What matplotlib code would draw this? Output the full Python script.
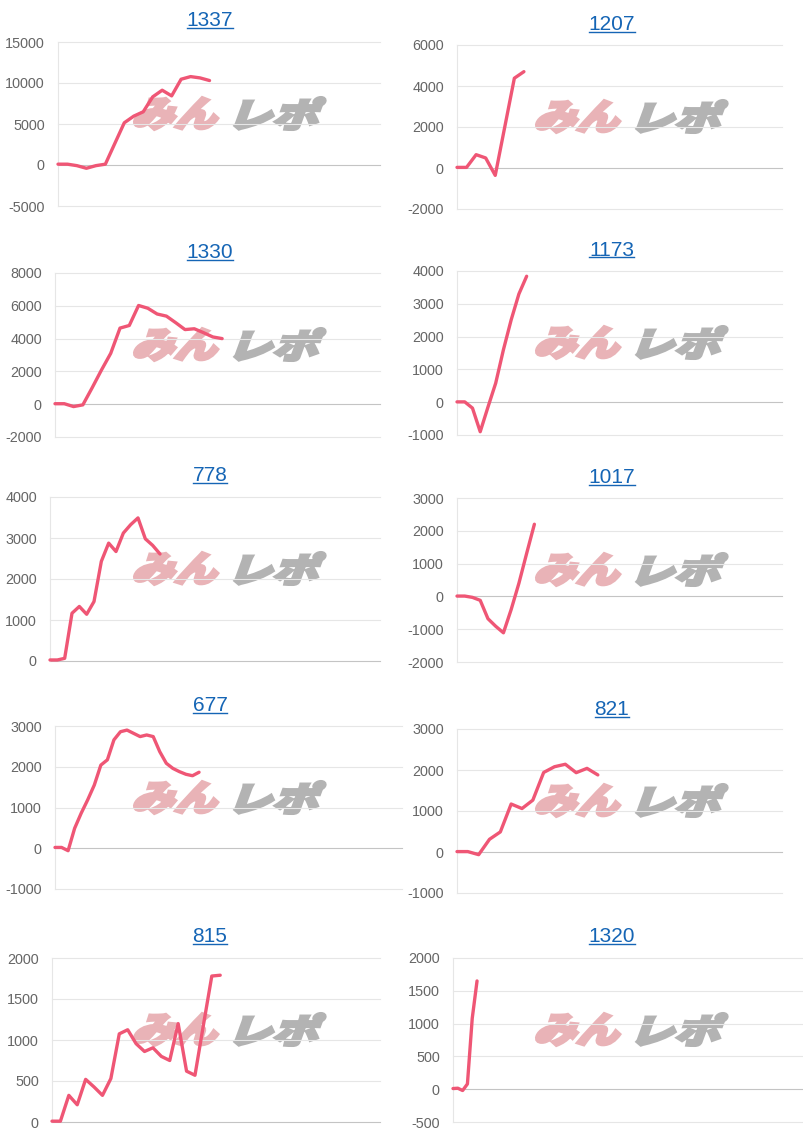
import numpy as np
import matplotlib
matplotlib.use("Agg")
import matplotlib.pyplot as plt
from matplotlib.textpath import TextPath
from matplotlib.patches import PathPatch
from matplotlib.font_manager import FontProperties
from matplotlib.transforms import Affine2D, IdentityTransform
from matplotlib.lines import Line2D

plt.rcParams['font.family'] = ['Liberation Sans', 'DejaVu Sans']

# machine numbers (chart titles)
titles = ["1337", "1207", "1330", "1173", "778", "1017", "677", "821", "815", "1320"]

# cumulative difference per machine
s1337 = [100, 100, -80, -400, -80, 100, 2630, 5150, 5960, 6490, 8310, 9120, 8430, 10460, 10780, 10620, 10300]
s1207 = [30, 30, 650, 490, -360, 2010, 4380, 4700]
s1330 = [30, 30, -145, -40, 1000, 2080, 3100, 4640, 4800, 6020, 5850, 5500, 5370, 4970, 4550, 4600, 4360, 4100, 4000]
s1173 = [10, 10, -180, -900, -150, 580, 1600, 2510, 3300, 3840]
s778 = [25, 25, 65, 1165, 1330, 1140, 1450, 2430, 2875, 2670, 3120, 3325, 3490, 2980, 2820, 2610]
s1017 = [10, 10, -30, -120, -680, -910, -1110, -400, 400, 1310, 2200]
s677 = [20, 20, -60, 490, 860, 1190, 1550, 2040, 2170, 2660, 2860, 2900, 2820, 2740, 2780, 2740,
        2370, 2085, 1960, 1880, 1815, 1780, 1865]
s821 = [10, 10, -65, 310, 490, 1170, 1060, 1265, 1940, 2080, 2140, 1935, 2040, 1880]
s815 = [10, 10, 325, 210, 520, 427, 325, 530, 1075, 1125, 955, 860, 905, 800, 750, 1200, 620, 570,
        1180, 1780, 1790]
s1320 = [10, 15, -20, 80, 1080, 1650]
series = [s1337, s1207, s1330, s1173, s778, s1017, s677, s821, s815, s1320]

# number of category slots on each x axis
slots = [34, 34, 35, 42, 45, 42, 53, 30, 39, 73]

# y ticks
yticks = [
    [-5000, 0, 5000, 10000, 15000],
    [-2000, 0, 2000, 4000, 6000],
    [-2000, 0, 2000, 4000, 6000, 8000],
    [-1000, 0, 1000, 2000, 3000, 4000],
    [0, 1000, 2000, 3000, 4000],
    [-2000, -1000, 0, 1000, 2000, 3000],
    [-1000, 0, 1000, 2000, 3000],
    [-1000, 0, 1000, 2000, 3000],
    [0, 500, 1000, 1500, 2000],
    [-500, 0, 500, 1000, 1500, 2000],
]

W, H = 804, 1140
# plot boxes in pixels: left, top, right, bottom
boxes = [
    (58, 42, 380, 206), (457, 45, 782, 209),
    (55, 273, 380, 437), (457, 271, 782, 435),
    (50, 497, 380, 661), (457, 498, 782, 662),
    (55, 726, 402, 889), (457, 729, 782, 893),
    (52, 958, 380, 1122), (453, 958, 804, 1122),
]
title_base = [26.5, 30.5, 258, 255.5, 481.5, 483, 711, 715, 942, 942]

LINE = '#ef5675'
LINK = '#1565b5'

fig = plt.figure(figsize=(W / 100, H / 100), dpi=100)
fig.patch.set_facecolor('white')

logo_font = FontProperties(family='Noto Sans CJK JP', weight='black')


def logo_part(text, x0, top, w, h, color):
    tp = TextPath((0, 0), text, size=100, prop=logo_font)
    ext = tp.get_extents()
    ang = np.radians(20)
    sk = np.tan(ang)
    pad = 1.5
    tr = (Affine2D().translate(-ext.x0, -ext.y0)
          .scale((w - 2 * pad - (h - 2 * pad) * sk) / ext.width, (h - 2 * pad) / ext.height)
          .skew(ang, 0)
          .translate(x0 + pad, H - top - h + pad))
    fig.add_artist(PathPatch(tp, transform=tr, fc=color, ec=color, lw=2.2,
                             joinstyle='miter', zorder=-1))


title_texts = []
for i, (name, vals) in enumerate(zip(titles, series)):
    l, t, r, b = boxes[i]
    ax = fig.add_axes([l / W, 1 - b / H, (r - l) / W, (b - t) / H])
    ax.set_facecolor('none')
    ticks = yticks[i]
    ax.set_ylim(ticks[0], ticks[-1])
    ax.set_xlim(0, slots[i])
    for v in ticks:
        ax.axhline(v, color='#c4c4c4' if v == 0 else '#e6e6e6', lw=0.8, zorder=1, clip_on=False)
    ax.set_yticks(ticks)
    ax.set_yticklabels([str(v) for v in ticks])
    ax.set_xticks([])
    ax.tick_params(axis='y', length=0, pad=9.5, labelsize=10.4, labelcolor='#666666')
    for s in ['top', 'right', 'bottom']:
        ax.spines[s].set_visible(False)
    ax.spines['left'].set_color('#e6e6e6')
    ax.spines['left'].set_linewidth(0.8)

    ax.plot(range(len(vals)), vals, color=LINE, lw=2.4, solid_joinstyle='round',
            solid_capstyle='round', zorder=3, clip_on=False)

    col = 0 if i % 2 == 0 else 402
    logo_part("みん", col + 130, t + 54, 97, 35, '#e9b3b7')
    logo_part("レポ", col + 232, t + 54, 96, 35, '#b3b3b3')

    tx = fig.text((col + 210) / W, 1 - title_base[i] / H, name, ha='center', va='baseline',
                  fontsize=15, color=LINK)
    title_texts.append((tx, title_base[i]))

fig.canvas.draw()
renderer = fig.canvas.get_renderer()
for tx, base in title_texts:
    bb = tx.get_window_extent(renderer)
    y = H - base - 1.8
    fig.add_artist(Line2D([bb.x0, bb.x1], [y, y], transform=IdentityTransform(),
                          color=LINK, lw=1.0))

fig.savefig('out.png', dpi=100, facecolor='white')
